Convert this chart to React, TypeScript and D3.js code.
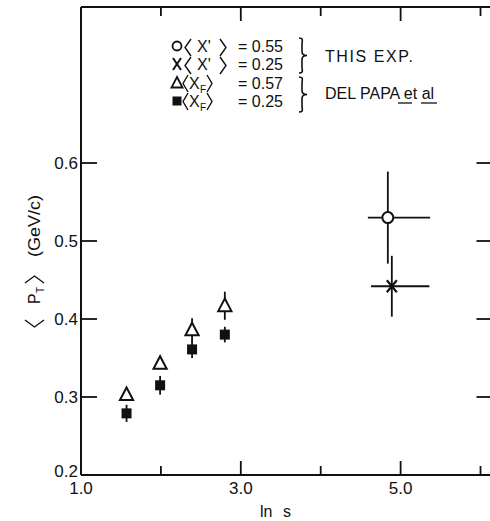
import React from "react";
import * as d3 from "d3";

// ---- data ----
const delPapaLnS = [1.57, 1.99, 2.39, 2.8];
const xf057Vals = [0.303, 0.343, 0.386, 0.417];
const xf057Err = [0, 0, 0.015, 0.018];
const xf025Vals = [0.279, 0.315, 0.361, 0.38];
const xf025Err = [0.011, 0.012, 0.011, 0.01];

const thisExpLnS = [4.84, 4.89];
const thisExpVals = [0.53, 0.442];
const thisExpYErr = [0.059, 0.039];
const thisExpXLow = [4.59, 4.63];
const thisExpXHigh = [5.37, 5.36];

const xTicks = [2, 3, 4, 5, 6];
const xLabelTicks = [1, 3, 5];
const yTicks = [0.3, 0.4, 0.5, 0.6];
const yLabelTicks = [0.2, 0.3, 0.4, 0.5, 0.6];
const legendLabels = ["= 0.55", "= 0.25", "= 0.57", "= 0.25"];

const W = 490;
const H = 521;
const FONT = "'Liberation Sans', Arial, sans-serif";

export default function App() {
  const x = d3.scaleLinear().domain([1.0, 6.15]).range([81, 492.5]);
  const y = d3.scaleLinear().domain([0.2, 0.8]).range([475, 7]);
  const x0 = x(1.0);
  const x1 = x(6.15);
  const y0 = y(0.2);
  const y1 = y(0.8);
  const sw = 1.8;

  const triPath = (cx: number, cy: number, s: number) =>
    `M${cx},${cy - s * 0.6}L${cx + s * 0.55},${cy + s * 0.45}L${cx - s * 0.55},${cy + s * 0.45}Z`;

  const brace = (bx: number, ya: number, yb: number) => {
    const ym = (ya + yb) / 2;
    const w = 5;
    return `M${bx},${ya} C${bx + w},${ya} ${bx + w * 0.6},${ya + 3} ${bx + w * 0.6},${ya + 6} L${bx + w * 0.6},${ym - 4} C${bx + w * 0.6},${ym - 1} ${bx + w},${ym} ${bx + w + 3},${ym} C${bx + w},${ym} ${bx + w * 0.6},${ym + 1} ${bx + w * 0.6},${ym + 4} L${bx + w * 0.6},${yb - 6} C${bx + w * 0.6},${yb - 3} ${bx + w},${yb} ${bx},${yb}`;
  };
  // angle bracket: dir=-1 for "<", +1 for ">"
  const angle = (xl: number, xr: number, yt: number, yb: number, dir: number) => {
    const ym = (yt + yb) / 2;
    return dir < 0
      ? `M${xr},${yt}L${xl},${ym}L${xr},${yb}`
      : `M${xl},${yt}L${xr},${ym}L${xl},${yb}`;
  };

  const legendRows = [46, 64, 83, 101];

  return (
    <svg width={W} height={H} style={{ position: "absolute", left: 0, top: 0 }} fontFamily={FONT}>
      <rect x={0} y={0} width={W} height={H} fill="#fff" />
      {/* frame */}
      <g stroke="#111" strokeWidth={2} fill="none">
        <line x1={x0} y1={y1} x2={x1} y2={y1} />
        <line x1={x0} y1={y0} x2={x1} y2={y0} />
        <line x1={x0} y1={y1} x2={x0} y2={y0} />
        <line x1={x1} y1={y1} x2={x1} y2={y0} />
      </g>
      {/* ticks */}
      <g stroke="#111" strokeWidth={1.8}>
        {xTicks.map((t) => {
          const len = t % 2 === 1 ? 14 : 9;
          return (
            <g key={t}>
              <line x1={x(t)} x2={x(t)} y1={y0} y2={y0 - len} />
              <line x1={x(t)} x2={x(t)} y1={y1} y2={y1 + len} />
            </g>
          );
        })}
        {yTicks.map((t) => (
          <g key={t}>
            <line x1={x0} x2={x0 + 16} y1={y(t)} y2={y(t)} />
            <line x1={x1} x2={x1 - 16} y1={y(t)} y2={y(t)} />
          </g>
        ))}
      </g>
      {/* tick labels */}
      <g fontSize={17} fill="#111">
        {yLabelTicks.map((t) => (
          <text key={t} x={x0 - 3} y={t === 0.2 ? y(t) + 2 : y(t) + 6} textAnchor="end">
            {t.toFixed(1)}
          </text>
        ))}
        {xLabelTicks.map((t) => (
          <text key={t} x={x(t)} y={y0 + 19} textAnchor="middle">
            {t.toFixed(1)}
          </text>
        ))}
        <text x={260} y={517} fontSize={16}>ln</text>
        <text x={283} y={517} fontSize={16}>s</text>
      </g>
      {/* y axis label (rotated; u = -screenY, v = screenX) */}
      <g transform="rotate(-90)" fill="#111" fontSize={16}>
        <path d={angle(-327, -320, 25, 44, -1)} fill="none" stroke="#111" strokeWidth={1.4} />
        <text x={-304} y={40}>P</text>
        <text x={-293} y={44} fontSize={10}>T</text>
        <path d={angle(-283, -276, 25, 44, 1)} fill="none" stroke="#111" strokeWidth={1.4} />
        <text x={-257} y={40} textLength={62} lengthAdjust="spacingAndGlyphs">(GeV/c)</text>
      </g>

      {/* Del Papa error bars */}
      <g stroke="#111" strokeWidth={sw}>
        {delPapaLnS.map((v, i) =>
          xf057Err[i] > 0 ? (
            <line key={"te" + i} x1={x(v)} x2={x(v)} y1={y(xf057Vals[i] + xf057Err[i])} y2={y(xf057Vals[i] - xf057Err[i])} />
          ) : null
        )}
        {delPapaLnS.map((v, i) => (
          <line key={"se" + i} x1={x(v)} x2={x(v)} y1={y(xf025Vals[i] + xf025Err[i])} y2={y(xf025Vals[i] - xf025Err[i])} />
        ))}
      </g>
      {/* triangles */}
      {delPapaLnS.map((v, i) => (
        <path key={"t" + i} d={triPath(x(v), y(xf057Vals[i]), 12)} fill="#fff" stroke="#111" strokeWidth={2} />
      ))}
      {/* squares */}
      {delPapaLnS.map((v, i) => (
        <rect key={"s" + i} x={x(v) - 5} y={y(xf025Vals[i]) - 5} width={10} height={10} fill="#111" />
      ))}

      {/* this experiment */}
      <g stroke="#111" strokeWidth={sw}>
        {thisExpLnS.map((v, i) => (
          <g key={"e" + i}>
            <line x1={x(v)} x2={x(v)} y1={y(thisExpVals[i] + thisExpYErr[i])} y2={y(thisExpVals[i] - thisExpYErr[i])} />
            <line x1={x(thisExpXLow[i])} x2={x(thisExpXHigh[i])} y1={y(thisExpVals[i])} y2={y(thisExpVals[i])} />
          </g>
        ))}
      </g>
      <circle cx={x(thisExpLnS[0])} cy={y(thisExpVals[0])} r={5.5} fill="#fff" stroke="#111" strokeWidth={2} />
      <g stroke="#111" strokeWidth={2.2}>
        <line x1={x(thisExpLnS[1]) - 5} x2={x(thisExpLnS[1]) + 5} y1={y(thisExpVals[1]) - 6} y2={y(thisExpVals[1]) + 6} />
        <line x1={x(thisExpLnS[1]) + 5} x2={x(thisExpLnS[1]) - 5} y1={y(thisExpVals[1]) - 6} y2={y(thisExpVals[1]) + 6} />
      </g>

      {/* legend */}
      <g fill="#111" fontSize={16}>
        <circle cx={177} cy={legendRows[0]} r={4.5} fill="none" stroke="#111" strokeWidth={1.8} />
        <g stroke="#111" strokeWidth={2}>
          <line x1={173} x2={181} y1={legendRows[1] - 6} y2={legendRows[1] + 6} />
          <line x1={181} x2={173} y1={legendRows[1] - 6} y2={legendRows[1] + 6} />
        </g>
        <path d={triPath(177, legendRows[2], 10)} fill="#fff" stroke="#111" strokeWidth={1.8} />
        <rect x={172.5} y={legendRows[3] - 4.5} width={9} height={9} fill="#111" />

        {[0, 1].map((k) => (
          <g key={"lx" + k}>
            <path d={angle(185, 191, legendRows[k] - 7, legendRows[k] + 10, -1)} fill="none" stroke="#111" strokeWidth={1.4} />
            <text x={197} y={legendRows[k] + 6}>X'</text>
            <path d={angle(220, 226, legendRows[k] - 7, legendRows[k] + 10, 1)} fill="none" stroke="#111" strokeWidth={1.4} />
            <text x={238} y={legendRows[k] + 6}>{legendLabels[k]}</text>
          </g>
        ))}
        {[2, 3].map((k) => (
          <g key={"lf" + k}>
            <path d={angle(183, 188, legendRows[k] - 8, legendRows[k] + 9, -1)} fill="none" stroke="#111" strokeWidth={1.4} />
            <text x={189} y={legendRows[k] + 6}>X</text>
            <text x={200} y={legendRows[k] + 10} fontSize={10}>F</text>
            <path d={angle(207, 212, legendRows[k] - 8, legendRows[k] + 9, 1)} fill="none" stroke="#111" strokeWidth={1.4} />
            <text x={238} y={legendRows[k] + 6}>{legendLabels[k]}</text>
          </g>
        ))}
        <path d={brace(299, 38, 73)} fill="none" stroke="#111" strokeWidth={1.6} />
        <path d={brace(299, 77, 112)} fill="none" stroke="#111" strokeWidth={1.6} />
        <text x={325} y={62} textLength={88} lengthAdjust="spacing">THIS EXP.</text>
        <text x={325} y={99}>DEL PAPA et al</text>
        <line x1={398} x2={412} y1={103} y2={103} stroke="#111" strokeWidth={1.3} />
        <line x1={421} x2={437} y1={103} y2={103} stroke="#111" strokeWidth={1.3} />
      </g>
    </svg>
  );
}
